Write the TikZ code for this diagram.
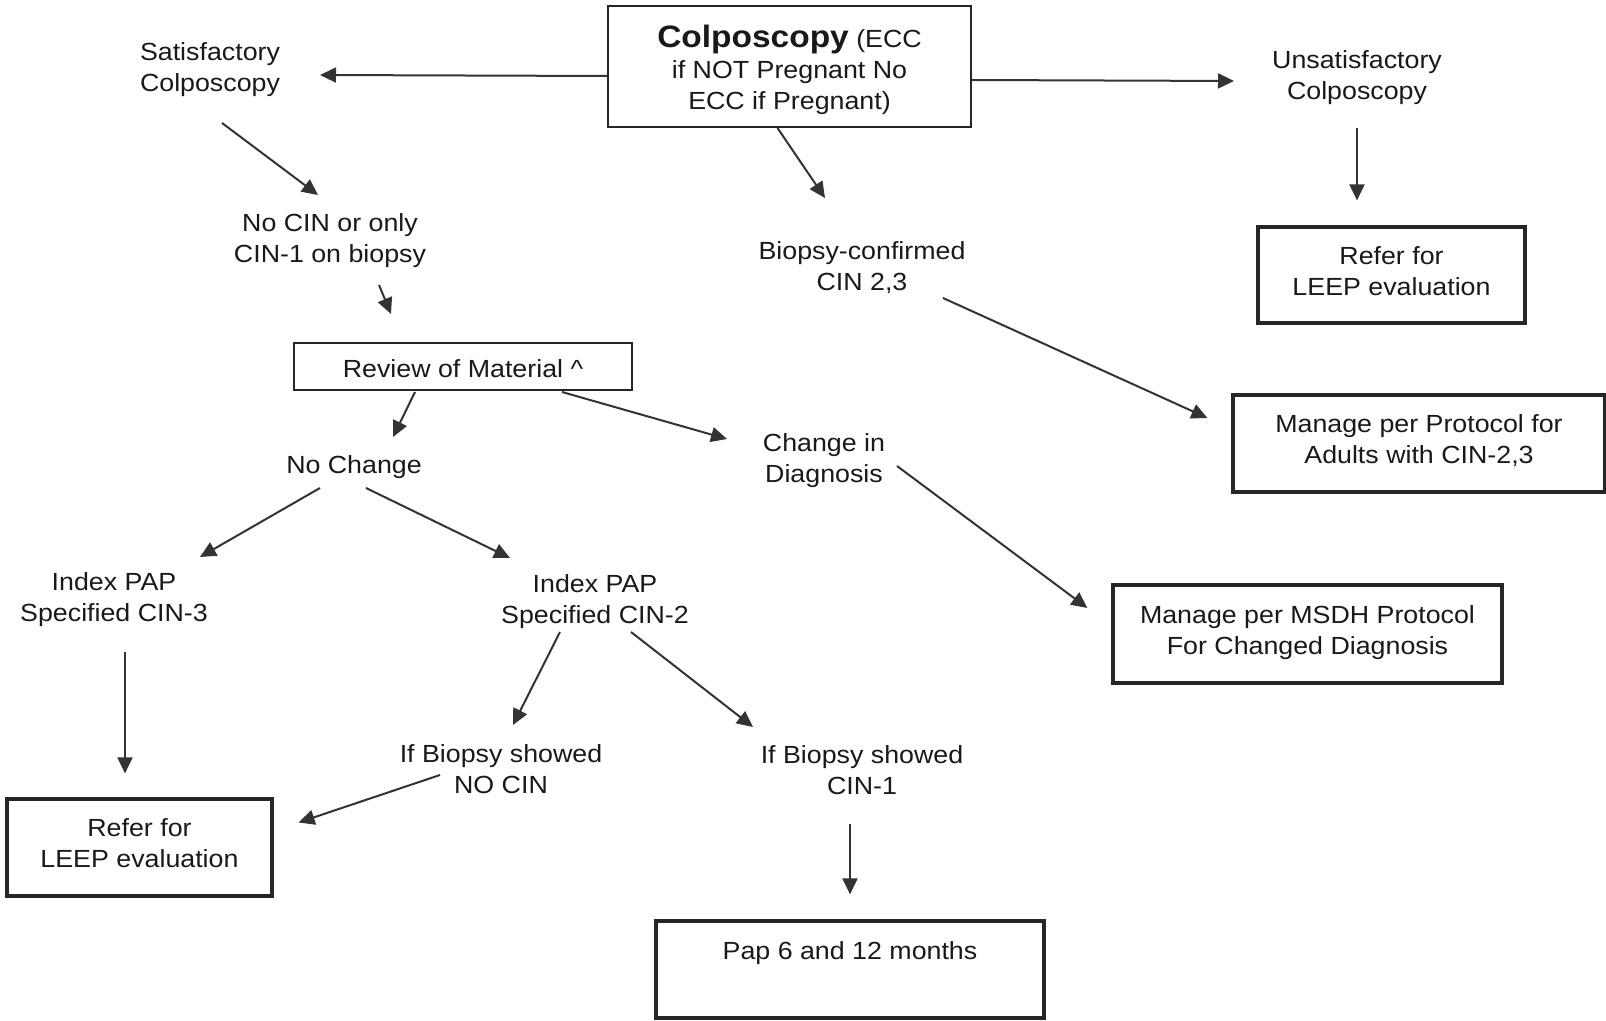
\documentclass[tikz,border=0pt]{standalone}
\usepackage{fontspec}
\setmainfont{Liberation Sans}[FakeStretch=1.08]
\usetikzlibrary{positioning, arrows.meta}
\newcommand{\lowstrut}[1]{\rule[-#1]{0pt}{0pt}}
\newcommand{\highstrut}[1]{\rule{0pt}{#1}}

\begin{document}
\begin{tikzpicture}[x=0.5pt,y=-0.5pt,
  every node/.style={font=\fontsize{12.4}{15.5}\selectfont, text=black!90, align=center, inner sep=0pt},
  box/.style={draw=black!85, line width=1.6pt},
  thinbox/.style={draw=black!85, line width=1pt},
  arr/.style={draw=black!80, line width=1pt, -{Triangle[length=8pt,width=7.5pt]}}]
\useasboundingbox (0,0) rectangle (1606,1021);

% boxes
\node[thinbox, minimum width=181.5pt, minimum height=60.5pt] (colpo) at (789.5,66.5)
  {\highstrut{15pt}{\fontsize{15.5}{18}\selectfont\bfseries Colposcopy} (ECC\\if NOT Pregnant No\\ECC if Pregnant)};
\node[box, minimum width=133.5pt, minimum height=48pt] (refer1) at (1391.5,275) {Refer for\\LEEP evaluation\lowstrut{4pt}};
\node[box, minimum width=186pt, minimum height=48.5pt] (manage) at (1419,443.5) {Manage per Protocol for\\Adults with CIN-2,3\lowstrut{4pt}};
\node[thinbox, minimum width=169pt, minimum height=23.5pt] (review) at (463,366.5) {\highstrut{11pt}Review of Material \^{}};
\node[box, minimum width=194.5pt, minimum height=49pt] (msdh) at (1307.5,634) {Manage per MSDH Protocol\\For Changed Diagnosis\lowstrut{3.5pt}};
\node[box, minimum width=132.5pt, minimum height=48.5pt] (refertwo) at (139.5,847.5) {Refer for\\LEEP evaluation\lowstrut{4pt}};
\node[box, minimum width=194pt, minimum height=48.5pt] (pap) at (850,969.5) {Pap 6 and 12 months\\ \lowstrut{3pt}};

% plain labels
\node (satis) at (210,70) {Satisfactory\\Colposcopy};
\node (unsat) at (1357,78) {Unsatisfactory\\Colposcopy};
\node (biopsy) at (862,268) {Biopsy-confirmed\\CIN 2,3};
\node (nocin) at (330,241) {No CIN or only\\CIN-1 on biopsy};
\node (nochange) at (354,467) {No Change};
\node (change) at (824,461) {Change in\\Diagnosis};
\node (cinthree) at (114,600) {Index PAP\\Specified CIN-3};
\node (cintwo) at (595,602) {Index PAP\\Specified CIN-2};
\node (bxnocin) at (501,769) {If Biopsy showed\\NO CIN};
\node (bxcinone) at (862,770) {If Biopsy showed\\CIN-1};

% arrows
\draw[arr] ([shift={(0,9.5)}]colpo.west) -- ([shift={(110,5)}]satis.center);
\draw[arr] ([shift={(0,13.5)}]colpo.east) -- ([shift={(-123,3)}]unsat.center);
\draw[arr] ([shift={(0,50)}]unsat.center) -- ([shift={(-34.5,-25)}]refer1.north);
\draw[arr] ([shift={(-12,0)}]colpo.south) -- ([shift={(-37,-70)}]biopsy.center);
\draw[arr] ([shift={(12,53)}]satis.center) -- ([shift={(-12,-46)}]nocin.center);
\draw[arr] ([shift={(49,44)}]nocin.center) -- ([shift={(-72,-28)}]review.north);
\draw[arr] ([shift={(81,30)}]biopsy.center) -- ([shift={(-24,-25.5)}]manage.west);
\draw[arr] ([shift={(-48,1)}]review.south) -- ([shift={(39,-30)}]nochange.center);
\draw[arr] ([shift={(99,1)}]review.south) -- ([shift={(-97,-22)}]change.center);
\draw[arr] ([shift={(73,5)}]change.center) -- ([shift={(-24,-26)}]msdh.west);
\draw[arr] ([shift={(-34,21)}]nochange.center) -- ([shift={(86,-43)}]cinthree.center);
\draw[arr] ([shift={(12,21)}]nochange.center) -- ([shift={(-85,-44)}]cintwo.center);
\draw[arr] ([shift={(11,52)}]cinthree.center) -- ([shift={(-14.5,-24)}]refertwo.north);
\draw[arr] ([shift={(-35,30)}]cintwo.center) -- ([shift={(12,-44)}]bxnocin.center);
\draw[arr] ([shift={(36,30)}]cintwo.center) -- ([shift={(-109,-43)}]bxcinone.center);
\draw[arr] ([shift={(-61,6)}]bxnocin.center) -- ([shift={(25,-25)}]refertwo.east);
\draw[arr] ([shift={(-12,54)}]bxcinone.center) -- ([shift={(0,-25)}]pap.north);
\end{tikzpicture}
\end{document}
